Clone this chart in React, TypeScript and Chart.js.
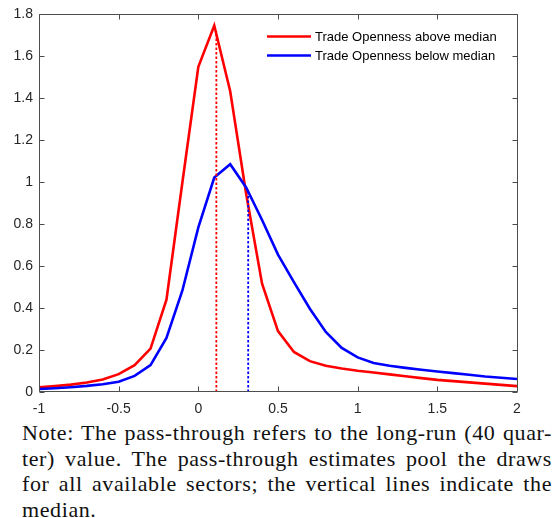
import React, { useEffect, useRef } from 'react';
import { Chart, registerables } from 'chart.js';

Chart.register(...registerables);

// ---- data ----
const xValues = [
  -1, -0.9, -0.8, -0.7, -0.6, -0.5, -0.4, -0.3, -0.2, -0.1,
  0, 0.1, 0.2, 0.3, 0.4, 0.5, 0.6, 0.7, 0.8, 0.9,
  1, 1.1, 1.2, 1.3, 1.4, 1.5, 1.6, 1.7, 1.8, 1.9, 2,
];
const aboveMedian = [
  0.022, 0.028, 0.035, 0.045, 0.06, 0.085, 0.128, 0.207, 0.44, 1.0,
  1.55, 1.747, 1.434, 0.945, 0.516, 0.29, 0.191, 0.147, 0.125, 0.112,
  0.101, 0.093, 0.084, 0.075, 0.066, 0.058, 0.052, 0.046, 0.04, 0.034, 0.028,
];
const belowMedian = [
  0.014, 0.018, 0.023, 0.029, 0.037, 0.049, 0.077, 0.128, 0.258, 0.484,
  0.785, 1.022, 1.086, 0.975, 0.82, 0.655, 0.524, 0.397, 0.286, 0.21,
  0.165, 0.138, 0.125, 0.115, 0.106, 0.098, 0.09, 0.082, 0.074, 0.068, 0.062,
];
const medianAboveX = 0.113;
const medianAboveTop = 1.72;
const medianBelowX = 0.313;
const medianBelowTop = 0.955;

const xTicks = [-1, -0.5, 0, 0.5, 1, 1.5, 2];
const yTicks = [0, 0.2, 0.4, 0.6, 0.8, 1, 1.2, 1.4, 1.6, 1.8];
const seriesLabels = ['Trade Openness above median', 'Trade Openness below median'];
const seriesColors = ['#ff0000', '#0000ff'];
const noteLines = [
  'Note: The pass-through refers to the long-run (40 quar-',
  'ter) value. The pass-through estimates pool the draws',
  'for all available sectors; the vertical lines indicate the',
  'median.',
];

const AXIS_COLOR = '#4d4d4d';
const TICK_FONT = { family: '"Liberation Sans", Arial, sans-serif', size: 14 };

const boxPlugin = {
  id: 'matlabBox',
  afterDatasetsDraw(chart: any) {
    const { ctx, chartArea, scales } = chart;
    const { left, right, top, bottom } = chartArea;
    const xs = scales.x;
    const ys = scales.y;
    ctx.save();
    ctx.strokeStyle = AXIS_COLOR;
    ctx.lineWidth = 1;
    const L = Math.round(left) + 0.5;
    const R = Math.round(right) + 0.5;
    const T = Math.round(top) + 0.5;
    const B = Math.round(bottom) - 0.5;
    ctx.beginPath();
    ctx.moveTo(L, T);
    ctx.lineTo(R, T);
    ctx.lineTo(R, B);
    ctx.lineTo(L, B);
    ctx.closePath();
    ctx.stroke();
    const tl = 5;
    ctx.beginPath();
    xTicks.forEach((v) => {
      const px = Math.round(xs.getPixelForValue(v)) + 0.5;
      ctx.moveTo(px, B);
      ctx.lineTo(px, B - tl);
      ctx.moveTo(px, T);
      ctx.lineTo(px, T + tl);
    });
    yTicks.forEach((v) => {
      const py = Math.round(ys.getPixelForValue(v)) + 0.5;
      ctx.moveTo(L, py);
      ctx.lineTo(L + tl, py);
      ctx.moveTo(R, py);
      ctx.lineTo(R - tl, py);
    });
    ctx.stroke();

    // legend
    const lx0 = right - 250;
    const lx1 = right - 206;
    const ly0 = top + 22;
    const rowH = 19;
    ctx.font = '13px "Liberation Sans", Arial, sans-serif';
    ctx.textBaseline = 'middle';
    ctx.textAlign = 'left';
    seriesLabels.forEach((lab, i) => {
      const yy = ly0 + i * rowH;
      ctx.strokeStyle = seriesColors[i];
      ctx.lineWidth = 2.5;
      ctx.beginPath();
      ctx.moveTo(lx0, yy);
      ctx.lineTo(lx1, yy);
      ctx.stroke();
      ctx.fillStyle = '#000000';
      ctx.fillText(lab, lx1 + 4, yy + 1);
    });
    ctx.restore();
  },
};

export default function App() {
  const canvasRef = useRef<HTMLCanvasElement | null>(null);

  useEffect(() => {
    const canvas = canvasRef.current;
    if (!canvas) return;
    const chart = new Chart(canvas, {
      type: 'line',
      data: {
        datasets: [
          {
            label: seriesLabels[0],
            data: xValues.map((x, i) => ({ x, y: aboveMedian[i] })),
            borderColor: seriesColors[0],
            borderWidth: 2.6,
            pointRadius: 0,
            tension: 0,
            order: 4,
          },
          {
            label: seriesLabels[1],
            data: xValues.map((x, i) => ({ x, y: belowMedian[i] })),
            borderColor: seriesColors[1],
            borderWidth: 2.6,
            pointRadius: 0,
            tension: 0,
            order: 3,
          },
          {
            label: 'median above',
            data: [
              { x: medianAboveX, y: 0 },
              { x: medianAboveX, y: medianAboveTop },
            ],
            borderColor: seriesColors[0],
            borderWidth: 1.8,
            borderDash: [2.5, 2],
            pointRadius: 0,
            order: 2,
          },
          {
            label: 'median below',
            data: [
              { x: medianBelowX, y: 0 },
              { x: medianBelowX, y: medianBelowTop },
            ],
            borderColor: seriesColors[1],
            borderWidth: 1.8,
            borderDash: [2.5, 2],
            pointRadius: 0,
            order: 1,
          },
        ],
      },
      options: {
        responsive: false,
        animation: false,
        devicePixelRatio: 1,
        layout: { padding: { left: 0, right: 36, top: 13, bottom: 0 } },
        plugins: { legend: { display: false }, tooltip: { enabled: false } },
        scales: {
          x: {
            type: 'linear',
            min: -1,
            max: 2,
            grid: { display: false, drawTicks: false },
            border: { display: false },
            afterBuildTicks: (s: any) => {
              s.ticks = xTicks.map((v) => ({ value: v }));
            },
            afterFit: (s: any) => {
              s.height = 23;
            },
            ticks: {
              autoSkip: false,
              maxRotation: 0,
              padding: 9,
              color: '#262626',
              font: TICK_FONT,
              callback: (v: any) => String(v),
            },
          },
          y: {
            type: 'linear',
            min: 0,
            max: 1.8,
            grid: { display: false, drawTicks: false },
            border: { display: false },
            afterBuildTicks: (s: any) => {
              s.ticks = yTicks.map((v) => ({ value: v }));
            },
            afterFit: (s: any) => {
              s.width = 39;
            },
            ticks: {
              autoSkip: false,
              padding: 6,
              color: '#262626',
              font: TICK_FONT,
              callback: (v: any) => String(v),
            },
          },
        },
      },
      plugins: [boxPlugin],
    } as any);
    return () => chart.destroy();
  }, []);

  return (
    <div
      style={{
        position: 'fixed',
        left: 0,
        top: 0,
        width: 553,
        height: 518,
        overflow: 'hidden',
        background: '#ffffff',
      }}
    >
      <canvas
        ref={canvasRef}
        width={553}
        height={415}
        style={{ position: 'absolute', left: 0, top: 0, width: 553, height: 415 }}
      />
      <div
        style={{
          position: 'absolute',
          left: 22,
          top: 420,
          width: 530,
          fontFamily: '"Liberation Serif", "Times New Roman", serif',
          fontSize: 22,
          lineHeight: '25.6px',
          letterSpacing: '0.6px',
          color: '#111111',
        }}
      >
        {noteLines.map((ln, i) => (
          <div
            key={i}
            style={{
              whiteSpace: 'nowrap',
              textAlign: i < noteLines.length - 1 ? 'justify' : 'left',
              textAlignLast: i < noteLines.length - 1 ? 'justify' : 'left',
            }}
          >
            {ln}
          </div>
        ))}
      </div>
    </div>
  );
}
